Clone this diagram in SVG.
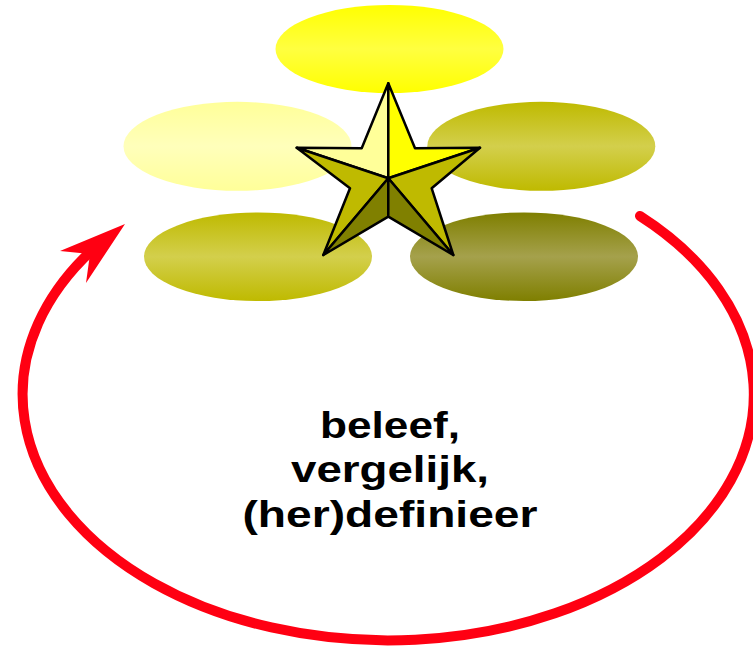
<svg xmlns="http://www.w3.org/2000/svg" width="753" height="646" viewBox="0 0 753 646">
<style>
.star{stroke:#000;stroke-width:2.5;stroke-linejoin:round}
.lbl{font-family:"Liberation Sans",Arial,sans-serif;font-weight:bold;font-size:37px;fill:#000;text-anchor:middle}
.arc{fill:none;stroke:#FF0012;stroke-width:10;stroke-linecap:round}
</style>
<defs>
<linearGradient id="gTop" x1="0" y1="0" x2="0" y2="1"><stop offset="0" stop-color="#FFFF00"/><stop offset="0.5" stop-color="#FFFF40"/><stop offset="1" stop-color="#FFFF00"/></linearGradient>
<linearGradient id="gPale" x1="0" y1="0" x2="0" y2="1"><stop offset="0" stop-color="#FFFF99"/><stop offset="0.5" stop-color="#FFFFBB"/><stop offset="1" stop-color="#FFFF99"/></linearGradient>
<linearGradient id="gOlive" x1="0" y1="0" x2="0" y2="1"><stop offset="0" stop-color="#BFBA00"/><stop offset="0.5" stop-color="#D3CF4C"/><stop offset="1" stop-color="#BFBA00"/></linearGradient>
<linearGradient id="gDark" x1="0" y1="0" x2="0" y2="1"><stop offset="0" stop-color="#7F7F00"/><stop offset="0.5" stop-color="#A5A14C"/><stop offset="1" stop-color="#7F7F00"/></linearGradient>
</defs>
<g id="ellipse-top"><ellipse cx="389.5" cy="49" rx="114" ry="44" fill="url(#gTop)"/></g>
<g id="ellipse-left"><ellipse cx="237.5" cy="146.3" rx="114" ry="44.5" fill="url(#gPale)"/></g>
<g id="ellipse-right"><ellipse cx="541.3" cy="146.3" rx="114" ry="44.5" fill="url(#gOlive)"/></g>
<g id="ellipse-bottom-left"><ellipse cx="258" cy="256.7" rx="114" ry="44.3" fill="url(#gOlive)"/></g>
<g id="ellipse-bottom-right"><ellipse cx="524" cy="256.7" rx="114" ry="44.3" fill="url(#gDark)"/></g>
<g id="star">
<polygon class="star" fill="#FFFF99" points="388.3,83.3 361.7,148.3 296.7,147.7 388.3,178.3"/>
<polygon class="star" fill="#FFFF00" points="388.3,83.3 415,148.3 480,147.7 388.3,178.3"/>
<polygon class="star" fill="#BFBA00" points="296.7,147.7 388.3,178.3 323.3,255 350,188.3"/>
<polygon class="star" fill="#BFBA00" points="480,147.7 388.3,178.3 453.3,255 431.7,188.3"/>
<polygon class="star" fill="#808000" points="388.3,178.3 323.3,255 388.3,216.7"/>
<polygon class="star" fill="#808000" points="388.3,178.3 453.3,255 388.3,216.7"/>
</g>
<g id="connectors">
<path class="arc" d="M 640 216 A 365.6 246 0 1 1 100 243"/>
<polygon fill="#FF0012" points="125,224 60,251 90,254 86,283"/>
</g>
<g id="label">
<text class="lbl" x="390" y="438" textLength="140" lengthAdjust="spacingAndGlyphs">beleef,</text>
<text class="lbl" x="390" y="482" textLength="198" lengthAdjust="spacingAndGlyphs">vergelijk,</text>
<text class="lbl" x="390" y="527" textLength="295" lengthAdjust="spacingAndGlyphs">(her)definieer</text>
</g>
</svg>
